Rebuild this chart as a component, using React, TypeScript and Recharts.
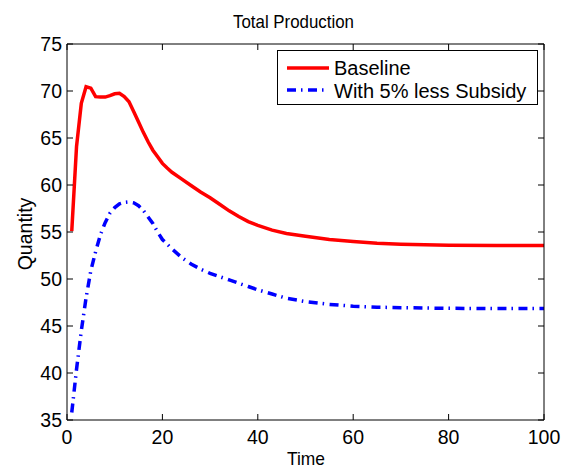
import React from "react";
import { LineChart, Line, XAxis, YAxis, Legend, Customized } from "recharts";

const time = [1, 2, 3, 4, 5, 6, 7, 8, 9, 10, 11, 12, 13, 14, 15, 16, 17, 18, 19, 20, 21, 22, 24, 26, 28, 30, 32, 34, 36, 38, 40, 43, 46, 50, 55, 60, 65, 70, 80, 90, 100];
const baseline = [55.1, 64.1, 68.7, 70.45, 70.3, 69.4, 69.35, 69.35, 69.5, 69.7, 69.75, 69.4, 68.85, 67.8, 66.7, 65.6, 64.6, 63.7, 63.0, 62.3, 61.8, 61.35, 60.65, 59.95, 59.25, 58.65, 57.95, 57.25, 56.65, 56.1, 55.7, 55.2, 54.85, 54.55, 54.2, 54.0, 53.8, 53.7, 53.6, 53.56, 53.56];
const subsidy = [35.8, 40.4, 44.5, 48.0, 50.9, 52.9, 54.7, 56.0, 57.0, 57.6, 58.0, 58.15, 58.2, 58.1, 57.8, 57.3, 56.6, 55.9, 55.0, 54.2, 53.7, 53.2, 52.3, 51.6, 51.05, 50.6, 50.25, 49.9, 49.55, 49.2, 48.85, 48.4, 47.95, 47.6, 47.3, 47.1, 47.0, 46.95, 46.88, 46.85, 46.85];

const xTicks = [0, 20, 40, 60, 80, 100];
const yTicks = [35, 40, 45, 50, 55, 60, 65, 70, 75];
const seriesNames = ["Baseline", "With 5% less Subsidy"];
const titleText = "Total Production";
const xLabel = "Time";
const yLabel = "Quantity";

const data = time.map((t, i) => ({ t, baseline: baseline[i], subsidy: subsidy[i] }));

const FONT = "'Liberation Sans', Arial, Helvetica, sans-serif";

const LegendBox = () => (
  <svg width={261} height={55} style={{ display: "block" }}>
    <rect x={0.5} y={0.5} width={260} height={54} fill="#fff" stroke="#000" strokeWidth={1} />
    <line x1={10} y1={18} x2={52} y2={18} stroke="#ff0000" strokeWidth={3.5} />
    <text x={57} y={24.5} fontFamily={FONT} fontSize={20} fill="#000">{seriesNames[0]}</text>
    <line x1={10} y1={40} x2={52} y2={40} stroke="#0000ff" strokeWidth={3.5} strokeDasharray="9 5 1.5 5.5" />
    <text x={57} y={47.5} fontFamily={FONT} fontSize={20} fill="#000">{seriesNames[1]}</text>
  </svg>
);

const Texts = () => (
  <g>
    <text x={233} y={27.5} fontFamily={FONT} fontSize={18.5} textLength={121} lengthAdjust="spacingAndGlyphs" fill="#000">{titleText}</text>
    <text x={287} y={464.5} fontFamily={FONT} fontSize={19} textLength={38} lengthAdjust="spacingAndGlyphs" fill="#000">{xLabel}</text>
    <text x={32} y={234} fontFamily={FONT} fontSize={19.5} textAnchor="middle" transform="rotate(-90 32 234)" fill="#000">{yLabel}</text>
  </g>
);

export default function App() {
  const tickStyle = { fontFamily: FONT, fontSize: 19.5, fill: "#000" };
  return (
    <div style={{ position: "absolute", left: 0, top: 0 }}>
      <LineChart width={566} height={470} data={data} margin={{ top: 34, right: 12, bottom: 20, left: 17 }}>
        <XAxis
          dataKey="t"
          type="number"
          domain={[0, 100]}
          ticks={xTicks}
          interval={0}
          height={30}
          tickSize={-6}
          tickMargin={16}
          tick={tickStyle}
          axisLine={{ stroke: "#000", strokeWidth: 1 }}
          tickLine={{ stroke: "#000", strokeWidth: 1 }}
          allowDataOverflow
        />
        <XAxis
          xAxisId="top"
          orientation="top"
          dataKey="t"
          type="number"
          domain={[0, 100]}
          ticks={xTicks}
          interval={0}
          height={10}
          tickSize={-6}
          tickFormatter={() => ""}
          axisLine={{ stroke: "#000", strokeWidth: 1 }}
          tickLine={{ stroke: "#000", strokeWidth: 1 }}
          allowDataOverflow
        />
        <YAxis
          type="number"
          domain={[35, 75]}
          ticks={yTicks}
          interval={0}
          width={50}
          tickSize={-6}
          tickMargin={11}
          tick={tickStyle}
          axisLine={{ stroke: "#000", strokeWidth: 1 }}
          tickLine={{ stroke: "#000", strokeWidth: 1 }}
          allowDataOverflow
        />
        <YAxis
          yAxisId="right"
          orientation="right"
          type="number"
          domain={[35, 75]}
          ticks={yTicks}
          interval={0}
          width={10}
          tickSize={-6}
          tickFormatter={() => ""}
          axisLine={{ stroke: "#000", strokeWidth: 1 }}
          tickLine={{ stroke: "#000", strokeWidth: 1 }}
          allowDataOverflow
        />
        <Line type="linear" dataKey="baseline" name={seriesNames[0]} stroke="#ff0000" strokeWidth={3.5} dot={false} isAnimationActive={false} />
        <Line type="linear" dataKey="subsidy" name={seriesNames[1]} stroke="#0000ff" strokeWidth={3.5} strokeDasharray="9 5 1.5 5.5" dot={false} isAnimationActive={false} />
        <Legend
          layout="horizontal"
          verticalAlign="middle"
          align="center"
          content={() => <LegendBox />}
          wrapperStyle={{ position: "absolute", left: 277, top: 50, width: 261, height: 55, bottom: "auto", margin: 0 }}
        />
        <Customized component={Texts} />
      </LineChart>
    </div>
  );
}
